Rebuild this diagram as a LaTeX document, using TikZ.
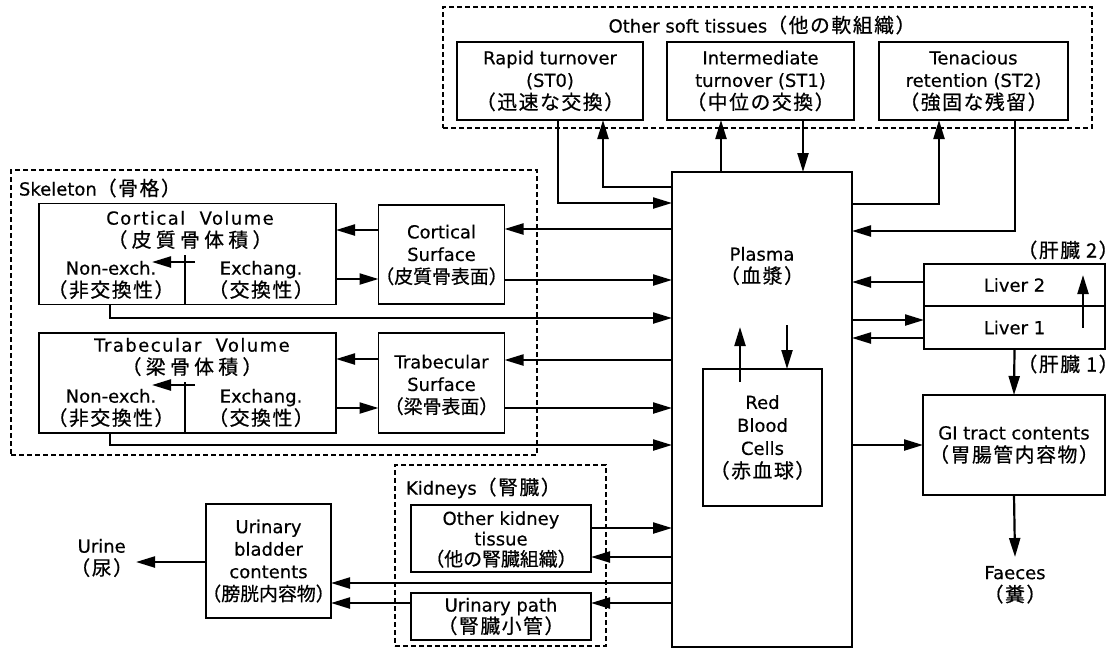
\documentclass[tikz,border=0pt]{standalone}
\usepackage{fontspec}
\setmainfont{DejaVu Sans}[FakeBold=0.4]
\newfontfamily\wide[LetterSpace=8,FakeBold=0.4]{DejaVu Sans}
\newfontfamily\jp[Scale=1.1,LetterSpace=8,FakeBold=0.6]{Noto Sans CJK JP}
\newfontfamily\jpn[Scale=1.05,LetterSpace=0,FakeBold=0.6]{Noto Sans CJK JP}
\newfontfamily\jpw[Scale=1.1,LetterSpace=22,FakeBold=0.6]{Noto Sans CJK JP}
\usetikzlibrary{arrows.meta}
\begin{document}
\begin{tikzpicture}[x=1pt,y=-1pt,
  every node/.style={font=\fontsize{18}{22.5}\selectfont, align=center, inner sep=0pt, outer sep=0pt},
  box/.style={draw, line width=1.7pt},
  grp/.style={draw, line width=1.4pt, dash pattern=on 5pt off 3pt},
  arr/.style={line width=2.2pt, -{Triangle[length=19pt,width=11pt]}},
  ln/.style={line width=1.7pt}]
\useasboundingbox (0,0) rectangle (1118,649);
% groups
\node[grp, minimum width=649pt, minimum height=121pt] (os) at (767.5,67.5) {};
\node[grp, minimum width=526pt, minimum height=285pt] (sk) at (274,312.5) {};
\node[grp, minimum width=211pt, minimum height=181pt] (kd) at (500.5,555.5) {};
\node (ostitle) at (762,25) {Other soft tissues{\jp（他の軟組織）}};
\node[anchor=west] (sktitle) at (19,188) {Skeleton{\jp（骨格）}};
\node[anchor=west] (kdtitle) at (406,488) {Kidneys{\jp（腎臓）}};
% soft tissues
\node[box, minimum width=186pt, minimum height=78pt] (st0) at (550,81) {Rapid turnover\\(ST0)\\{\jp（迅速な交換）}};
\node[box, minimum width=187pt, minimum height=78pt] (st1) at (760.5,81) {Intermediate\\turnover (ST1)\\{\jp（中位の交換）}};
\node[box, minimum width=189pt, minimum height=78pt] (st2) at (973.5,81) {Tenacious\\retention (ST2)\\{\jp（強固な残留）}};
% plasma & rbc
\node[box, minimum width=180pt, minimum height=475pt] (plasma) at (762,409.5) {};
\node (plasmat) at (762,266) {Plasma\\{\jp（血漿）}};
\node[box, minimum width=119pt, minimum height=137pt, font=\fontsize{18}{23}\selectfont] (rbc) at (762.5,437.5) {Red\\Blood\\Cells\\{\jp（赤血球）}};
% liver & GI
\node[box, minimum width=181pt, minimum height=42pt] (liver2) at (1014.5,285) {Liver 2};
\node[box, minimum width=181pt, minimum height=43pt] (liver1) at (1014.5,327.5) {Liver 1};
\node (l2lab) at (1068,250) {{\jp（肝臓 2）}};
\node (l1lab) at (1068,364) {{\jp（肝臓 1）}};
\node[box, minimum width=182pt, minimum height=100pt] (gi) at (1014,445) {GI tract contents\\{\jp（胃腸管内容物）}};
\node[anchor=north] (faeces) at (1015,566) {Faeces\\{\jp（糞）}};
% skeleton
\node[box, minimum width=297pt, minimum height=101pt] (cv) at (187.5,254) {};
\node (cvt) at (190,230) {{\wide Cortical~~Volume}\\{\jpw（皮質骨体積）}};
\node (cvn) at (111,280) {Non-exch.\\{\jp（非交換性）}};
\node (cve) at (261,280) {Exchang.\\{\jp（交換性）}};
\draw[ln] (185,255) -- (185,0 |- cv.south);
\node[box, minimum width=126pt, minimum height=99pt] (cs) at (441.5,254.5) {};
\node (cst) at (441.5,255) {Cortical\\Surface\\{\jpn（皮質骨表面）}};
\node[box, minimum width=297pt, minimum height=100pt] (tv) at (187.5,383) {};
\node (tvt) at (192,357) {{\wide Trabecular~~Volume}\\{\jpw（梁骨体積）}};
\node (tvn) at (111,408) {Non-exch.\\{\jp（非交換性）}};
\node (tve) at (261,408) {Exchang.\\{\jp（交換性）}};
\draw[ln] (185,382) -- (185,0 |- tv.south);
\node[box, minimum width=126pt, minimum height=100pt] (ts) at (441.5,383) {};
\node (tst) at (441.5,385) {Trabecular\\Surface\\{\jpn（梁骨表面）}};
\coordinate (cvx) at (195,262);
\coordinate (cvnx) at (152,262);
\coordinate (tvx) at (195,385);
\coordinate (tvnx) at (152,385);
% kidneys & bladder
\node[box, minimum width=180pt, minimum height=67pt] (okt) at (501,538.5) {};
\node[font=\fontsize{18}{20.5}\selectfont] (oktt) at (501,539.5) {Other kidney\\tissue\\{\jpn（他の腎臓組織）}};
\node[box, minimum width=180pt, minimum height=47pt, font=\fontsize{18}{20.5}\selectfont] (up) at (501,616.5) {Urinary path\\{\jp（腎臓小管）}};
\node[box, minimum width=125pt, minimum height=114pt] (bladder) at (268.5,561) {};
\node (bladt) at (268.5,561) {Urinary\\bladder\\contents\\{\jpn（膀胱内容物）}};
\node[anchor=east, inner xsep=3pt] (urine) at (136,558) {Urine\\{\jp（尿）}};
% connectors: soft tissues
\draw[arr] (plasma.west |- 0,187) -| (603,0 |- st0.south);
\draw[arr] (558,0 |- st0.south) |- (plasma.west |- 0,203);
\draw[arr] (721,0 |- plasma.north) -- (721,0 |- st1.south);
\draw[arr] (803,0 |- st1.south) -- (803,0 |- plasma.north);
\draw[arr] (plasma.east |- 0,204) -| (939,0 |- st2.south);
\draw[arr] (1015,0 |- st2.south) |- (plasma.east |- 0,231);
% skeleton
\draw[arr] (plasma.west |- 0,229) -- (cs.east |- 0,229);
\draw[arr] (cs.west |- 0,230) -- (cv.east |- 0,230);
\draw[arr] (cv.east |- 0,279) -- (cs.west |- 0,279);
\draw[arr] (cs.east |- 0,280) -- (plasma.west |- 0,280);
\draw[arr] (110,0 |- cv.south) |- (plasma.west |- 0,318);
\draw[arr] (cvx) -- (cvnx);
\draw[arr] (plasma.west |- 0,360) -- (ts.east |- 0,360);
\draw[arr] (ts.west |- 0,359) -- (tv.east |- 0,359);
\draw[arr] (tv.east |- 0,408) -- (ts.west |- 0,408);
\draw[arr] (ts.east |- 0,408) -- (plasma.west |- 0,408);
\draw[arr] (110,0 |- tv.south) |- (plasma.west |- 0,445);
\draw[arr] (tvx) -- (tvnx);
% rbc
\draw[arr] ([xshift=-22.5pt,yshift=-13pt]rbc.north) -- ([xshift=-22.5pt,yshift=42pt]rbc.north);
\draw[arr] ([xshift=24.5pt,yshift=44pt]rbc.north) -- ([xshift=24.5pt]rbc.north);
% liver & GI
\draw[arr] (liver2.west |- 0,282) -- (plasma.east |- 0,282);
\draw[arr] (plasma.east |- 0,320) -- (liver1.west |- 0,320);
\draw[arr] (liver1.west |- 0,338) -- (plasma.east |- 0,338);
\draw[arr] ([xshift=-22pt]liver1.east) -- ([xshift=-22pt,yshift=10pt]liver2.east);
\draw[arr] (liver1.south) -- (gi.north);
\draw[arr] (plasma.east |- 0,445) -- (gi.west |- 0,445);
\draw[arr] (gi.south) -- ([yshift=9pt]faeces.north);
% kidneys
\draw[arr] (okt.east |- 0,528) -- (plasma.west |- 0,528);
\draw[arr] (plasma.west |- 0,557) -- (okt.east |- 0,557);
\draw[arr] (plasma.west |- 0,583) -- (bladder.east |- 0,583);
\draw[arr] (plasma.west |- 0,603) -- (up.east |- 0,603);
\draw[arr] (up.west |- 0,603) -- (bladder.east |- 0,603);
\draw[arr] (bladder.west |- 0,562) -- (urine.east |- 0,562);
\end{tikzpicture}
\end{document}
